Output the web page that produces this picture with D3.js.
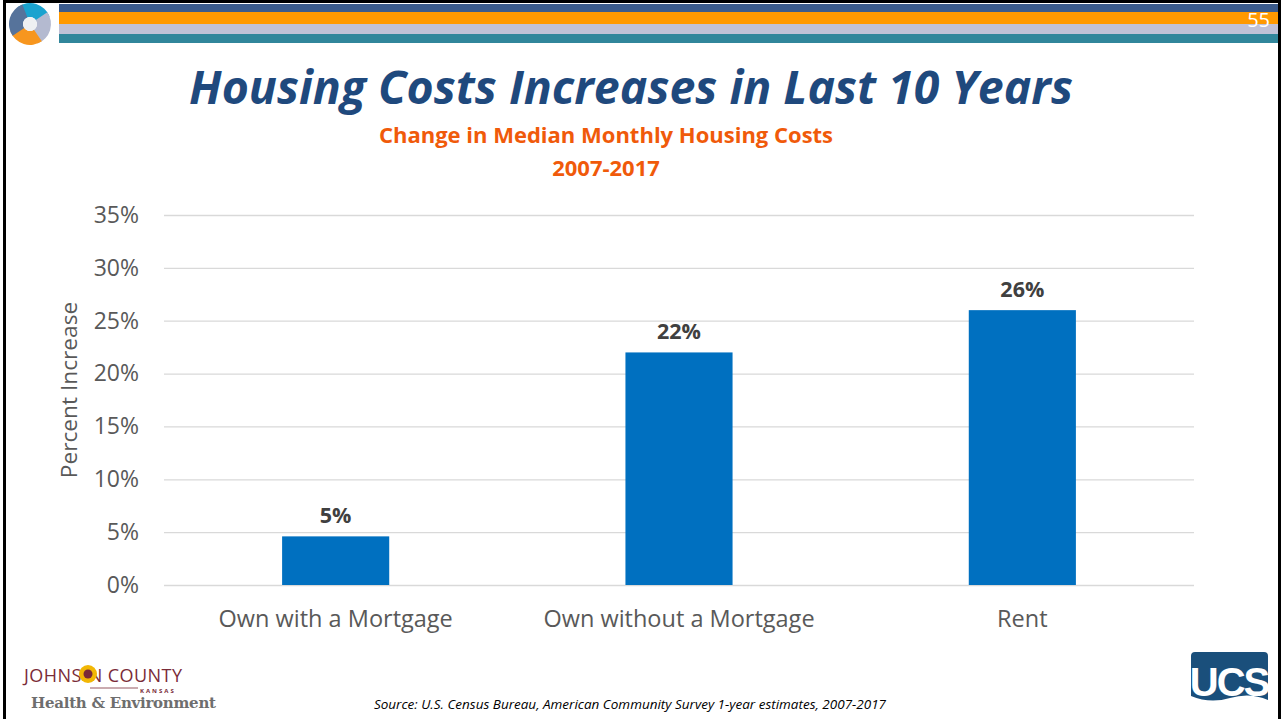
<!DOCTYPE html>
<html>
<head>
<meta charset="utf-8">
<script src="https://cdn.jsdelivr.net/npm/d3@7"></script>
<style>
  body { margin: 0; background: #fff; }
  svg { display: block; }
</style>
</head>
<body>
<div id="slide"></div>
<script>
(function(d3) {
  'use strict';

  // data
  var categories = ['Own with a Mortgage', 'Own without a Mortgage', 'Rent'];
  var values = [4.6, 22.0, 26.0];
  var valueLabels = ['5%', '22%', '26%'];
  var yTicks = [0, 5, 10, 15, 20, 25, 30, 35];

  var width = 1281;
  var height = 719;
  var font = 'Open Sans, Noto Sans, sans-serif';

  var svg = d3.select('#slide')
    .append('svg')
    .attr('width', width)
    .attr('height', height);

  // slide frame
  svg.append('rect')
    .attr('x', 4.5).attr('y', 1.5)
    .attr('width', 1275).attr('height', 730)
    .attr('fill', 'none')
    .attr('stroke', '#000')
    .attr('stroke-width', 3);

  // header stripes
  var stripes = [
    { y: 4, h: 8, c: '#3b5b8c' },
    { y: 12, h: 12, c: '#ff9900' },
    { y: 24, h: 10, c: '#c0c1d6' },
    { y: 34, h: 9, c: '#31869b' }
  ];
  svg.selectAll('.stripe')
    .data(stripes)
    .enter()
    .append('rect')
    .attr('class', 'stripe')
    .attr('x', 59).attr('y', function(d) { return d.y; })
    .attr('width', 1219).attr('height', function(d) { return d.h; })
    .attr('fill', function(d) { return d.c; });

  svg.append('text')
    .attr('x', 1270).attr('y', 27)
    .attr('text-anchor', 'end')
    .attr('font-family', font)
    .attr('font-size', 20)
    .attr('fill', '#fff')
    .text('55');

  // swirl logo
  var logo = svg.append('g').attr('transform', 'translate(30,24)');
  var swirl = d3.arc().innerRadius(7).outerRadius(21);
  var swirlColors = ['#1aa3cf', '#b4bad0', '#f7961e', '#56739b'];
  logo.selectAll('path')
    .data(d3.range(4))
    .enter()
    .append('path')
    .attr('d', function(i) {
      return swirl({ startAngle: i * Math.PI / 2 - 0.6, endAngle: i * Math.PI / 2 + 1.2 });
    })
    .attr('fill', function(i) { return swirlColors[i]; });
  logo.append('circle').attr('r', 7).attr('fill', '#eef0f2');

  // titles
  svg.append('text')
    .attr('x', 631).attr('y', 104)
    .attr('text-anchor', 'middle')
    .attr('font-family', font)
    .attr('font-style', 'italic')
    .attr('font-weight', 'bold')
    .attr('font-size', 46.5)
    .attr('fill', '#1f497d')
    .text('Housing Costs Increases in Last 10 Years');

  svg.append('text')
    .attr('x', 606).attr('y', 143)
    .attr('text-anchor', 'middle')
    .attr('font-family', font)
    .attr('font-weight', 'bold')
    .attr('font-size', 22)
    .attr('fill', '#f05a0a')
    .text('Change in Median Monthly Housing Costs');

  svg.append('text')
    .attr('x', 606).attr('y', 176)
    .attr('text-anchor', 'middle')
    .attr('font-family', font)
    .attr('font-weight', 'bold')
    .attr('font-size', 22)
    .attr('fill', '#f05a0a')
    .text('2007-2017');

  // chart
  var plot = { left: 164, right: 1194, top: 215, bottom: 585 };

  var x = d3.scaleBand()
    .domain(categories)
    .range([plot.left, plot.right])
    .paddingInner(0.688)
    .paddingOuter(0.344);

  var y = d3.scaleLinear()
    .domain([0, 35])
    .range([plot.bottom, plot.top]);

  var yAxis = svg.append('g')
    .attr('transform', 'translate(' + plot.left + ',0)')
    .call(d3.axisLeft(y)
      .tickValues(yTicks)
      .tickSize(-(plot.right - plot.left))
      .tickPadding(25)
      .tickFormat(function(d) { return d + '%'; }));
  yAxis.select('.domain').remove();
  yAxis.selectAll('.tick line').attr('stroke', '#d9d9d9').attr('stroke-width', 1.3);
  yAxis.selectAll('.tick text')
    .attr('font-family', font)
    .attr('font-size', 23)
    .attr('fill', '#595959');

  svg.append('text')
    .attr('transform', 'translate(77,390) rotate(-90)')
    .attr('text-anchor', 'middle')
    .attr('font-family', font)
    .attr('font-size', 22.7)
    .attr('fill', '#595959')
    .text('Percent Increase');

  svg.selectAll('.bar')
    .data(values)
    .enter()
    .append('rect')
    .attr('class', 'bar')
    .attr('x', function(d, i) { return x(categories[i]); })
    .attr('y', function(d) { return y(d); })
    .attr('width', x.bandwidth())
    .attr('height', function(d) { return y(0) - y(d); })
    .attr('fill', '#0070c0');

  svg.selectAll('.bar-label')
    .data(values)
    .enter()
    .append('text')
    .attr('class', 'bar-label')
    .attr('x', function(d, i) { return x(categories[i]) + x.bandwidth() / 2; })
    .attr('y', function(d) { return y(d) - 13; })
    .attr('text-anchor', 'middle')
    .attr('font-family', font)
    .attr('font-weight', 'bold')
    .attr('font-size', 21.5)
    .attr('fill', '#404040')
    .text(function(d, i) { return valueLabels[i]; });

  var xAxis = svg.append('g')
    .attr('transform', 'translate(0,' + plot.bottom + ')')
    .call(d3.axisBottom(x).tickSize(0).tickPadding(25));
  xAxis.select('.domain').remove();
  xAxis.selectAll('.tick text')
    .attr('font-family', font)
    .attr('font-size', 23.5)
    .attr('fill', '#595959');

  // footer
  svg.append('text')
    .attr('x', 630).attr('y', 709)
    .attr('text-anchor', 'middle')
    .attr('font-family', font)
    .attr('font-style', 'italic')
    .attr('font-size', 13.5)
    .attr('fill', '#000')
    .text('Source: U.S. Census Bureau, American Community Survey 1-year estimates, 2007-2017');

  var jc = svg.append('g');
  jc.append('text')
    .attr('x', 24).attr('y', 682)
    .attr('font-family', font)
    .attr('font-size', 18)
    .attr('fill', '#7a2b38')
    .attr('textLength', 158)
    .text('JOHNS\u2009\u2009N COUNTY');
  jc.append('circle').attr('cx', 88).attr('cy', 674).attr('r', 9).attr('fill', '#f2b705');
  jc.append('circle').attr('cx', 88).attr('cy', 674).attr('r', 4.5).attr('fill', '#7a2b38');
  jc.append('line')
    .attr('x1', 90).attr('x2', 138).attr('y1', 688).attr('y2', 688)
    .attr('stroke', '#7a2b38').attr('stroke-width', 0.8);
  jc.append('text')
    .attr('x', 140).attr('y', 693)
    .attr('font-family', font)
    .attr('font-size', 6)
    .attr('font-weight', 'bold')
    .attr('letter-spacing', 2)
    .attr('fill', '#7a2b38')
    .text('KANSAS');
  jc.append('text')
    .attr('x', 31).attr('y', 708)
    .attr('font-family', 'DejaVu Serif, serif')
    .attr('font-weight', 'bold')
    .attr('font-size', 15)
    .attr('fill', '#6e6e6e')
    .attr('textLength', 185)
    .text('Health & Environment');

  var ucs = svg.append('g');
  ucs.append('path')
    .attr('d', 'M1191,656 q0,-4 4,-4 h69 q4,0 4,4 v44 q-18,-8 -38,-2 q-20,6 -39,-2 z')
    .attr('fill', '#1a4f7b');
  ucs.append('text')
    .attr('x', 1229).attr('y', 696)
    .attr('text-anchor', 'middle')
    .attr('font-family', 'Liberation Sans Narrow, Liberation Sans, sans-serif')
    .attr('font-weight', 'bold')
    .attr('font-size', 40)
    .attr('letter-spacing', -2)
    .attr('fill', '#fff')
    .text('UCS');

})(window.d3);
</script>
</body>
</html>
